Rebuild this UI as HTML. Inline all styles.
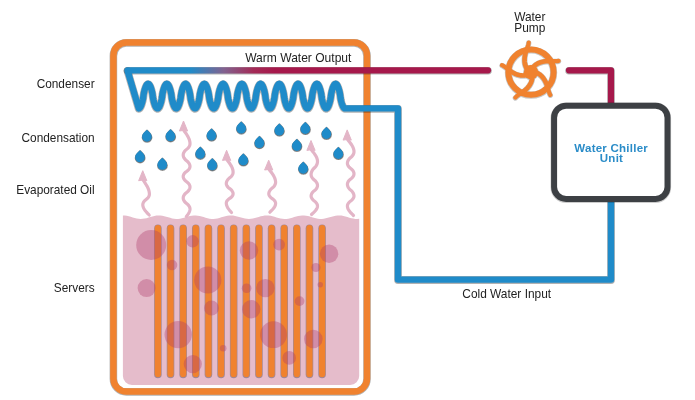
<!DOCTYPE html>
<html><head><meta charset="utf-8"><style>html,body{margin:0;padding:0;background:#fff;width:695px;height:400px;overflow:hidden}svg{display:block;will-change:transform}</style></head>
<body><svg width="695" height="400" viewBox="0 0 695 400">
<defs>
<linearGradient id="g1" gradientUnits="userSpaceOnUse" x1="190" y1="0" x2="275" y2="0"><stop offset="0" stop-color="#1f8bc9"/><stop offset="0.4" stop-color="#82628f"/><stop offset="0.75" stop-color="#a32a56"/><stop offset="1" stop-color="#a6184b"/></linearGradient>
</defs>
<rect width="695" height="400" fill="#fff"/>
<rect x="113.4" y="42.9" width="253.6" height="349" rx="13" ry="13" fill="none" stroke="#000" stroke-opacity="0.3" stroke-width="7.6"/>
<rect x="113.4" y="42.5" width="253.6" height="349" rx="13" ry="13" fill="none" stroke="#f0822f" stroke-width="6.5"/>
<path d="M122.9,376 L122.9,215.5 L122.90,215.45 L124.87,215.55 L126.84,215.85 L128.81,216.30 L130.78,216.86 L132.75,217.46 L134.72,218.03 L136.68,218.50 L138.65,218.82 L140.62,218.95 L142.59,218.87 L144.56,218.60 L146.53,218.17 L148.50,217.62 L150.47,217.03 L152.44,216.45 L154.41,215.96 L156.38,215.62 L158.34,215.46 L160.31,215.50 L162.28,215.75 L164.25,216.16 L166.22,216.69 L168.19,217.29 L170.16,217.87 L172.13,218.38 L174.10,218.74 L176.07,218.93 L178.04,218.92 L180.01,218.70 L181.97,218.31 L183.94,217.79 L185.91,217.20 L187.88,216.61 L189.85,216.09 L191.82,215.70 L193.79,215.48 L195.76,215.47 L197.73,215.66 L199.70,216.03 L201.67,216.54 L203.64,217.12 L205.60,217.71 L207.57,218.25 L209.54,218.66 L211.51,218.90 L213.48,218.94 L215.45,218.78 L217.42,218.43 L219.39,217.94 L221.36,217.37 L223.33,216.77 L225.30,216.22 L227.27,215.79 L229.24,215.52 L231.20,215.45 L233.17,215.59 L235.14,215.91 L237.11,216.38 L239.08,216.95 L241.05,217.55 L243.02,218.11 L244.99,218.56 L246.96,218.85 L248.93,218.95 L250.90,218.84 L252.87,218.55 L254.83,218.09 L256.80,217.53 L258.77,216.93 L260.74,216.37 L262.71,215.90 L264.68,215.58 L266.65,215.45 L268.62,215.53 L270.59,215.80 L272.56,216.24 L274.53,216.78 L276.50,217.38 L278.46,217.96 L280.43,218.44 L282.40,218.79 L284.37,218.94 L286.34,218.89 L288.31,218.65 L290.28,218.23 L292.25,217.70 L294.22,217.10 L296.19,216.52 L298.16,216.02 L300.12,215.65 L302.09,215.47 L304.06,215.49 L306.03,215.71 L308.00,216.10 L309.97,216.62 L311.94,217.21 L313.91,217.80 L315.88,218.32 L317.85,218.71 L319.82,218.92 L321.79,218.93 L323.75,218.74 L325.72,218.37 L327.69,217.86 L329.66,217.27 L331.63,216.68 L333.60,216.15 L335.57,215.74 L337.54,215.50 L339.51,215.46 L341.48,215.62 L343.45,215.97 L345.42,216.46 L347.38,217.04 L349.35,217.64 L351.32,218.18 L353.29,218.61 L355.26,218.88 L357.23,218.95 L359.20,218.81 L359.2,376 A9,9 0 0 1 350.2,385 L131.9,385 A9,9 0 0 1 122.9,376 Z" fill="#e5bccb"/>
<g stroke="#000" stroke-opacity="0.28" stroke-width="7.6" stroke-linecap="round" transform="translate(0,0.4)"><line x1="157.90" y1="228" x2="157.90" y2="374" /><line x1="170.53" y1="228" x2="170.53" y2="374" /><line x1="183.16" y1="228" x2="183.16" y2="374" /><line x1="195.79" y1="228" x2="195.79" y2="374" /><line x1="208.42" y1="228" x2="208.42" y2="374" /><line x1="221.05" y1="228" x2="221.05" y2="374" /><line x1="233.68" y1="228" x2="233.68" y2="374" /><line x1="246.31" y1="228" x2="246.31" y2="374" /><line x1="258.94" y1="228" x2="258.94" y2="374" /><line x1="271.57" y1="228" x2="271.57" y2="374" /><line x1="284.20" y1="228" x2="284.20" y2="374" /><line x1="296.83" y1="228" x2="296.83" y2="374" /><line x1="309.46" y1="228" x2="309.46" y2="374" /><line x1="322.09" y1="228" x2="322.09" y2="374" /></g>
<g stroke="#f0822f" stroke-width="6.2" stroke-linecap="round"><line x1="157.90" y1="228" x2="157.90" y2="374" /><line x1="170.53" y1="228" x2="170.53" y2="374" /><line x1="183.16" y1="228" x2="183.16" y2="374" /><line x1="195.79" y1="228" x2="195.79" y2="374" /><line x1="208.42" y1="228" x2="208.42" y2="374" /><line x1="221.05" y1="228" x2="221.05" y2="374" /><line x1="233.68" y1="228" x2="233.68" y2="374" /><line x1="246.31" y1="228" x2="246.31" y2="374" /><line x1="258.94" y1="228" x2="258.94" y2="374" /><line x1="271.57" y1="228" x2="271.57" y2="374" /><line x1="284.20" y1="228" x2="284.20" y2="374" /><line x1="296.83" y1="228" x2="296.83" y2="374" /><line x1="309.46" y1="228" x2="309.46" y2="374" /><line x1="322.09" y1="228" x2="322.09" y2="374" /></g>
<g fill="#b03a68" fill-opacity="0.36"><circle cx="151.2" cy="245" r="15"/><circle cx="192.6" cy="241.3" r="6.2"/><circle cx="172.1" cy="265" r="5.2"/><circle cx="146.6" cy="288.1" r="9"/><circle cx="207.8" cy="280" r="13.6"/><circle cx="211.5" cy="308" r="7.5"/><circle cx="249" cy="250.5" r="9.2"/><circle cx="279.1" cy="244.6" r="5.9"/><circle cx="329.1" cy="253.75" r="9.2"/><circle cx="315.9" cy="267.5" r="4.6"/><circle cx="320.25" cy="284.75" r="2.75"/><circle cx="265.4" cy="288.1" r="9.2"/><circle cx="246.6" cy="288.25" r="4.8"/><circle cx="299.6" cy="301.1" r="4.9"/><circle cx="251.2" cy="309.2" r="9.2"/><circle cx="178.2" cy="334.6" r="13.7"/><circle cx="192.8" cy="364.1" r="9.1"/><circle cx="223.2" cy="348.3" r="3.3"/><circle cx="273.5" cy="334.7" r="13.4"/><circle cx="289.2" cy="357.9" r="6.8"/><circle cx="313.3" cy="339" r="9.3"/></g>
<g fill="none" stroke="#e3b5c7" stroke-width="3.2" stroke-linecap="round"><path d="M143.05,177.80 L143.25,180.30 L144.05,181.46 L144.84,182.62 L145.60,183.79 L146.32,184.95 L146.99,186.11 L147.60,187.28 L148.13,188.44 L148.58,189.60 L148.93,190.76 L149.19,191.93 L149.35,193.09 L149.40,194.25 L149.31,195.12 L149.04,196.00 L148.60,196.88 L148.00,197.75 L147.22,198.62 L146.10,199.50 L144.98,200.38 L144.20,201.25 L143.60,202.12 L143.16,203.00 L142.89,203.88 L142.80,204.75 L142.85,205.60 L143.02,206.46 L143.29,207.31 L143.66,208.17 L144.12,209.02 L144.67,209.88 L145.30,210.73 L146.00,211.58 L146.75,212.44 L147.54,213.29 L148.36,214.15 L149.20,215.00"/><path d="M183.80,128.10 L184.00,130.60 L184.78,131.70 L185.55,132.79 L186.30,133.89 L187.00,134.98 L187.65,136.08 L188.24,137.18 L188.76,138.27 L189.20,139.37 L189.54,140.46 L189.80,141.56 L189.95,142.65 L190.00,143.75 L189.91,144.69 L189.63,145.62 L189.18,146.56 L188.55,147.50 L187.75,148.44 L186.60,149.38 L185.45,150.31 L184.65,151.25 L184.02,152.19 L183.57,153.12 L183.29,154.06 L183.20,155.00 L183.29,155.95 L183.57,156.90 L184.02,157.85 L184.65,158.80 L185.45,159.75 L186.60,160.70 L187.75,161.65 L188.55,162.60 L189.18,163.55 L189.63,164.50 L189.91,165.45 L190.00,166.40 L189.91,167.24 L189.63,168.08 L189.18,168.93 L188.55,169.77 L187.75,170.61 L186.60,171.45 L185.45,172.29 L184.65,173.13 L184.02,173.97 L183.57,174.82 L183.29,175.66 L183.20,176.50 L183.29,177.38 L183.57,178.25 L184.02,179.12 L184.65,180.00 L185.45,180.88 L186.60,181.75 L187.75,182.62 L188.55,183.50 L189.18,184.38 L189.63,185.25 L189.91,186.12 L190.00,187.00 L189.91,187.92 L189.63,188.83 L189.18,189.75 L188.55,190.67 L187.75,191.58 L186.60,192.50 L185.45,193.42 L184.65,194.33 L184.02,195.25 L183.57,196.17 L183.29,197.08 L183.20,198.00 L183.29,198.92 L183.57,199.83 L184.02,200.75 L184.65,201.67 L185.45,202.58 L186.60,203.50 L187.75,204.42 L188.55,205.33 L189.18,206.25 L189.63,207.17 L189.91,208.08 L190.00,209.00 L189.97,209.63 L189.87,210.27 L189.72,210.90 L189.50,211.53 L189.24,212.17 L188.92,212.80 L188.55,213.43 L188.15,214.07 L187.72,214.70 L187.26,215.33 L186.78,215.97 L186.30,216.60"/><path d="M226.90,157.50 L227.10,160.00 L227.88,161.02 L228.65,162.03 L229.40,163.05 L230.10,164.07 L230.75,165.08 L231.34,166.10 L231.86,167.12 L232.30,168.13 L232.64,169.15 L232.90,170.17 L233.05,171.18 L233.10,172.20 L233.01,173.14 L232.73,174.08 L232.28,175.02 L231.65,175.97 L230.85,176.91 L229.70,177.85 L228.55,178.79 L227.75,179.73 L227.12,180.68 L226.67,181.62 L226.39,182.56 L226.30,183.50 L226.39,184.36 L226.67,185.22 L227.12,186.07 L227.75,186.93 L228.55,187.79 L229.70,188.65 L230.85,189.51 L231.65,190.37 L232.28,191.23 L232.73,192.08 L233.01,192.94 L233.10,193.80 L233.01,194.58 L232.73,195.35 L232.28,196.12 L231.65,196.90 L230.85,197.68 L229.70,198.45 L228.55,199.22 L227.75,200.00 L227.12,200.78 L226.67,201.55 L226.39,202.32 L226.30,203.10 L226.34,203.88 L226.48,204.67 L226.70,205.45 L227.00,206.23 L227.37,207.02 L227.82,207.80 L228.33,208.58 L228.90,209.37 L229.51,210.15 L230.15,210.93 L230.82,211.72 L231.50,212.50"/><path d="M269.00,167.10 L269.20,169.60 L270.04,170.67 L270.86,171.73 L271.65,172.80 L272.40,173.87 L273.10,174.93 L273.73,176.00 L274.28,177.07 L274.74,178.13 L275.11,179.20 L275.38,180.27 L275.55,181.33 L275.60,182.40 L275.51,183.35 L275.23,184.30 L274.78,185.25 L274.15,186.20 L273.35,187.15 L272.20,188.10 L271.05,189.05 L270.25,190.00 L269.62,190.95 L269.17,191.90 L268.89,192.85 L268.80,193.80 L268.89,194.60 L269.17,195.40 L269.62,196.20 L270.25,197.00 L271.05,197.80 L272.20,198.60 L273.35,199.40 L274.15,200.20 L274.78,201.00 L275.23,201.80 L275.51,202.60 L275.60,203.40 L275.55,204.13 L275.41,204.87 L275.17,205.60 L274.84,206.33 L274.42,207.07 L273.93,207.80 L273.37,208.53 L272.75,209.27 L272.08,210.00 L271.38,210.73 L270.64,211.47 L269.90,212.20"/><path d="M311.30,147.50 L311.50,150.00 L312.28,150.96 L313.05,151.92 L313.80,152.88 L314.50,153.83 L315.15,154.79 L315.74,155.75 L316.26,156.71 L316.70,157.67 L317.04,158.62 L317.30,159.58 L317.45,160.54 L317.50,161.50 L317.41,162.58 L317.15,163.67 L316.73,164.75 L316.14,165.83 L315.39,166.92 L314.30,168.00 L313.21,169.08 L312.46,170.17 L311.87,171.25 L311.45,172.33 L311.19,173.42 L311.10,174.50 L311.19,175.42 L311.45,176.33 L311.87,177.25 L312.46,178.17 L313.21,179.08 L314.30,180.00 L315.39,180.92 L316.14,181.83 L316.73,182.75 L317.15,183.67 L317.41,184.58 L317.50,185.50 L317.41,186.38 L317.15,187.25 L316.73,188.12 L316.14,189.00 L315.39,189.88 L314.30,190.75 L313.21,191.62 L312.46,192.50 L311.87,193.38 L311.45,194.25 L311.19,195.12 L311.10,196.00 L311.19,196.83 L311.45,197.67 L311.87,198.50 L312.46,199.33 L313.21,200.17 L314.30,201.00 L315.39,201.83 L316.14,202.67 L316.73,203.50 L317.15,204.33 L317.41,205.17 L317.50,206.00 L317.45,206.71 L317.30,207.42 L317.04,208.12 L316.70,208.83 L316.26,209.54 L315.74,210.25 L315.15,210.96 L314.50,211.67 L313.80,212.38 L313.05,213.08 L312.28,213.79 L311.50,214.50"/><path d="M347.50,137.20 L347.70,139.70 L348.52,140.71 L349.33,141.72 L350.11,142.72 L350.85,143.73 L351.54,144.74 L352.15,145.75 L352.70,146.76 L353.16,147.77 L353.52,148.78 L353.79,149.78 L353.95,150.79 L354.00,151.80 L353.91,152.75 L353.64,153.70 L353.20,154.65 L352.60,155.60 L351.82,156.55 L350.70,157.50 L349.58,158.45 L348.80,159.40 L348.20,160.35 L347.76,161.30 L347.49,162.25 L347.40,163.20 L347.49,164.08 L347.76,164.97 L348.20,165.85 L348.80,166.73 L349.58,167.62 L350.70,168.50 L351.82,169.38 L352.60,170.27 L353.20,171.15 L353.64,172.03 L353.91,172.92 L354.00,173.80 L353.91,174.68 L353.64,175.55 L353.20,176.43 L352.60,177.30 L351.82,178.18 L350.70,179.05 L349.58,179.93 L348.80,180.80 L348.20,181.68 L347.76,182.55 L347.49,183.43 L347.40,184.30 L347.49,185.28 L347.76,186.25 L348.20,187.23 L348.80,188.20 L349.58,189.18 L350.70,190.15 L351.82,191.12 L352.60,192.10 L353.20,193.07 L353.64,194.05 L353.91,195.03 L354.00,196.00 L353.91,196.83 L353.64,197.67 L353.20,198.50 L352.60,199.33 L351.82,200.17 L350.70,201.00 L349.58,201.83 L348.80,202.67 L348.20,203.50 L347.76,204.33 L347.49,205.17 L347.40,206.00 L347.45,206.79 L347.61,207.58 L347.86,208.38 L348.22,209.17 L348.66,209.96 L349.19,210.75 L349.79,211.54 L350.45,212.33 L351.17,213.12 L351.92,213.92 L352.70,214.71 L353.50,215.50"/></g>
<g fill="#e3b5c7" stroke="#e3b5c7" stroke-width="1" stroke-linejoin="round"><path d="M142.75,170.70 L146.85,180.70 Q142.75,179.50 138.65,180.70 Z"/><path d="M183.50,121.00 L187.60,131.00 Q183.5,129.80 179.40,131.00 Z"/><path d="M226.60,150.25 L230.70,160.40 Q226.6,159.20 222.50,160.40 Z"/><path d="M268.70,160.20 L272.80,170.00 Q268.7,168.80 264.60,170.00 Z"/><path d="M311.00,140.50 L315.10,150.40 Q311,149.20 306.90,150.40 Z"/><path d="M347.20,129.90 L351.30,140.10 Q347.2,138.90 343.10,140.10 Z"/></g>
<g fill="#000" fill-opacity="0.4" stroke="#000" stroke-opacity="0.4" stroke-width="1.3" stroke-linejoin="round" transform="translate(0.15,0.45)"><path d="M146.9,129.70 C148.9,131.90 151.70000000000002,133.30 151.70000000000002,136.90 A4.8,4.8 0 0 1 142.1,136.90 C142.1,133.30 144.9,131.90 146.9,129.70 Z"/><path d="M170.5,129.30 C172.5,131.50 175.3,132.90 175.3,136.50 A4.8,4.8 0 0 1 165.7,136.50 C165.7,132.90 168.5,131.50 170.5,129.30 Z"/><path d="M140,150.30 C142.0,152.50 144.8,153.90 144.8,157.50 A4.8,4.8 0 0 1 135.2,157.50 C135.2,153.90 138.0,152.50 140,150.30 Z"/><path d="M162.3,157.80 C164.3,160.00 167.10000000000002,161.40 167.10000000000002,165.00 A4.8,4.8 0 0 1 157.5,165.00 C157.5,161.40 160.3,160.00 162.3,157.80 Z"/><path d="M211.5,128.60 C213.5,130.80 216.3,132.20 216.3,135.80 A4.8,4.8 0 0 1 206.7,135.80 C206.7,132.20 209.5,130.80 211.5,128.60 Z"/><path d="M241.2,121.55 C243.2,123.75 246.0,125.15 246.0,128.75 A4.8,4.8 0 0 1 236.39999999999998,128.75 C236.39999999999998,125.15 239.2,123.75 241.2,121.55 Z"/><path d="M200.25,146.80 C202.25,149.00 205.05,150.40 205.05,154.00 A4.8,4.8 0 0 1 195.45,154.00 C195.45,150.40 198.25,149.00 200.25,146.80 Z"/><path d="M212.25,158.30 C214.25,160.50 217.05,161.90 217.05,165.50 A4.8,4.8 0 0 1 207.45,165.50 C207.45,161.90 210.25,160.50 212.25,158.30 Z"/><path d="M243.3,153.50 C245.3,155.70 248.10000000000002,157.10 248.10000000000002,160.70 A4.8,4.8 0 0 1 238.5,160.70 C238.5,157.10 241.3,155.70 243.3,153.50 Z"/><path d="M259.4,136.10 C261.4,138.30 264.2,139.70 264.2,143.30 A4.8,4.8 0 0 1 254.59999999999997,143.30 C254.59999999999997,139.70 257.4,138.30 259.4,136.10 Z"/><path d="M279.3,123.60 C281.3,125.80 284.1,127.20 284.1,130.80 A4.8,4.8 0 0 1 274.5,130.80 C274.5,127.20 277.3,125.80 279.3,123.60 Z"/><path d="M305.3,122.00 C307.3,124.20 310.1,125.60 310.1,129.20 A4.8,4.8 0 0 1 300.5,129.20 C300.5,125.60 303.3,124.20 305.3,122.00 Z"/><path d="M326.4,126.90 C328.4,129.10 331.2,130.50 331.2,134.10 A4.8,4.8 0 0 1 321.59999999999997,134.10 C321.59999999999997,130.50 324.4,129.10 326.4,126.90 Z"/><path d="M296.8,138.90 C298.8,141.10 301.6,142.50 301.6,146.10 A4.8,4.8 0 0 1 292.0,146.10 C292.0,142.50 294.8,141.10 296.8,138.90 Z"/><path d="M338.3,147.00 C340.3,149.20 343.1,150.60 343.1,154.20 A4.8,4.8 0 0 1 333.5,154.20 C333.5,150.60 336.3,149.20 338.3,147.00 Z"/><path d="M303.2,161.70 C305.2,163.90 308.0,165.30 308.0,168.90 A4.8,4.8 0 0 1 298.4,168.90 C298.4,165.30 301.2,163.90 303.2,161.70 Z"/></g>
<g fill="#1f8bc9"><path d="M146.9,129.70 C148.9,131.90 151.70000000000002,133.30 151.70000000000002,136.90 A4.8,4.8 0 0 1 142.1,136.90 C142.1,133.30 144.9,131.90 146.9,129.70 Z"/><path d="M170.5,129.30 C172.5,131.50 175.3,132.90 175.3,136.50 A4.8,4.8 0 0 1 165.7,136.50 C165.7,132.90 168.5,131.50 170.5,129.30 Z"/><path d="M140,150.30 C142.0,152.50 144.8,153.90 144.8,157.50 A4.8,4.8 0 0 1 135.2,157.50 C135.2,153.90 138.0,152.50 140,150.30 Z"/><path d="M162.3,157.80 C164.3,160.00 167.10000000000002,161.40 167.10000000000002,165.00 A4.8,4.8 0 0 1 157.5,165.00 C157.5,161.40 160.3,160.00 162.3,157.80 Z"/><path d="M211.5,128.60 C213.5,130.80 216.3,132.20 216.3,135.80 A4.8,4.8 0 0 1 206.7,135.80 C206.7,132.20 209.5,130.80 211.5,128.60 Z"/><path d="M241.2,121.55 C243.2,123.75 246.0,125.15 246.0,128.75 A4.8,4.8 0 0 1 236.39999999999998,128.75 C236.39999999999998,125.15 239.2,123.75 241.2,121.55 Z"/><path d="M200.25,146.80 C202.25,149.00 205.05,150.40 205.05,154.00 A4.8,4.8 0 0 1 195.45,154.00 C195.45,150.40 198.25,149.00 200.25,146.80 Z"/><path d="M212.25,158.30 C214.25,160.50 217.05,161.90 217.05,165.50 A4.8,4.8 0 0 1 207.45,165.50 C207.45,161.90 210.25,160.50 212.25,158.30 Z"/><path d="M243.3,153.50 C245.3,155.70 248.10000000000002,157.10 248.10000000000002,160.70 A4.8,4.8 0 0 1 238.5,160.70 C238.5,157.10 241.3,155.70 243.3,153.50 Z"/><path d="M259.4,136.10 C261.4,138.30 264.2,139.70 264.2,143.30 A4.8,4.8 0 0 1 254.59999999999997,143.30 C254.59999999999997,139.70 257.4,138.30 259.4,136.10 Z"/><path d="M279.3,123.60 C281.3,125.80 284.1,127.20 284.1,130.80 A4.8,4.8 0 0 1 274.5,130.80 C274.5,127.20 277.3,125.80 279.3,123.60 Z"/><path d="M305.3,122.00 C307.3,124.20 310.1,125.60 310.1,129.20 A4.8,4.8 0 0 1 300.5,129.20 C300.5,125.60 303.3,124.20 305.3,122.00 Z"/><path d="M326.4,126.90 C328.4,129.10 331.2,130.50 331.2,134.10 A4.8,4.8 0 0 1 321.59999999999997,134.10 C321.59999999999997,130.50 324.4,129.10 326.4,126.90 Z"/><path d="M296.8,138.90 C298.8,141.10 301.6,142.50 301.6,146.10 A4.8,4.8 0 0 1 292.0,146.10 C292.0,142.50 294.8,141.10 296.8,138.90 Z"/><path d="M338.3,147.00 C340.3,149.20 343.1,150.60 343.1,154.20 A4.8,4.8 0 0 1 333.5,154.20 C333.5,150.60 336.3,149.20 338.3,147.00 Z"/><path d="M303.2,161.70 C305.2,163.90 308.0,165.30 308.0,168.90 A4.8,4.8 0 0 1 298.4,168.90 C298.4,165.30 301.2,163.90 303.2,161.70 Z"/></g>
<g fill="none" stroke="#000" stroke-opacity="0.3" stroke-linejoin="round" stroke-linecap="round" transform="translate(0,0.4)">
<path d="M127.5,70.5 L138.72,108.40 L138.72,108.40 L139.07,108.34 L139.41,108.16 L139.76,107.85 L140.10,107.42 L140.44,106.88 L140.79,106.22 L141.13,105.43 L141.47,104.53 L141.82,103.51 L142.16,102.36 L142.51,101.07 L142.85,99.60 L143.19,97.83 L143.54,94.96 L143.88,93.04 L144.22,91.51 L144.57,90.17 L144.91,88.99 L145.26,87.93 L145.60,87.00 L145.94,86.19 L146.29,85.49 L146.63,84.91 L146.97,84.45 L147.32,84.12 L147.66,83.90 L148.01,83.80 L148.35,83.83 L148.69,83.98 L149.04,84.25 L149.38,84.65 L149.72,85.16 L150.07,85.79 L150.41,86.54 L150.76,87.41 L151.10,88.40 L151.44,89.51 L151.79,90.76 L152.13,92.17 L152.47,93.84 L152.82,96.50 L153.16,98.69 L153.51,100.30 L153.85,101.68 L154.19,102.90 L154.54,103.99 L154.88,104.96 L155.22,105.80 L155.57,106.53 L155.91,107.14 L156.26,107.63 L156.60,108.00 L156.94,108.25 L157.29,108.38 L157.63,108.39 L157.97,108.27 L158.32,108.03 L158.66,107.67 L159.01,107.19 L159.35,106.59 L159.69,105.87 L160.04,105.04 L160.38,104.08 L160.72,103.01 L161.07,101.80 L161.41,100.43 L161.76,98.85 L162.10,96.78 L162.44,94.01 L162.79,92.31 L163.13,90.88 L163.47,89.62 L163.82,88.49 L164.16,87.49 L164.51,86.62 L164.85,85.85 L165.19,85.21 L165.54,84.69 L165.88,84.29 L166.22,84.00 L166.57,83.84 L166.91,83.80 L167.26,83.89 L167.60,84.09 L167.94,84.42 L168.29,84.87 L168.63,85.43 L168.97,86.12 L169.32,86.92 L169.66,87.84 L170.01,88.89 L170.35,90.06 L170.69,91.38 L171.04,92.89 L171.38,94.75 L171.72,97.64 L172.07,99.46 L172.41,100.95 L172.76,102.25 L173.10,103.41 L173.44,104.45 L173.79,105.36 L174.13,106.15 L174.47,106.82 L174.82,107.38 L175.16,107.82 L175.51,108.13 L175.85,108.33 L176.19,108.40 L176.54,108.35 L176.88,108.18 L177.22,107.88 L177.57,107.47 L177.91,106.93 L178.26,106.28 L178.60,105.51 L178.94,104.62 L179.29,103.61 L179.63,102.47 L179.97,101.20 L180.32,99.75 L180.66,98.01 L181.01,95.18 L181.35,93.19 L181.69,91.64 L182.04,90.29 L182.38,89.09 L182.72,88.02 L183.07,87.08 L183.41,86.26 L183.76,85.55 L184.10,84.96 L184.44,84.49 L184.79,84.14 L185.13,83.91 L185.47,83.81 L185.82,83.82 L186.16,83.96 L186.51,84.22 L186.85,84.61 L187.19,85.11 L187.54,85.73 L187.88,86.47 L188.22,87.33 L188.57,88.30 L188.91,89.40 L189.26,90.64 L189.60,92.04 L189.94,93.67 L190.29,96.10 L190.63,98.53 L190.97,100.16 L191.32,101.56 L191.66,102.80 L192.01,103.90 L192.35,104.87 L192.69,105.73 L193.04,106.47 L193.38,107.09 L193.73,107.59 L194.07,107.98 L194.41,108.24 L194.76,108.38 L195.10,108.39 L195.44,108.29 L195.79,108.06 L196.13,107.71 L196.48,107.24 L196.82,106.65 L197.16,105.94 L197.51,105.12 L197.85,104.18 L198.19,103.11 L198.54,101.91 L198.88,100.56 L199.23,99.01 L199.57,97.02 L199.91,94.19 L200.26,92.45 L200.60,91.00 L200.94,89.73 L201.29,88.59 L201.63,87.58 L201.98,86.69 L202.32,85.92 L202.66,85.27 L203.01,84.73 L203.35,84.32 L203.69,84.02 L204.04,83.85 L204.38,83.80 L204.73,83.87 L205.07,84.07 L205.41,84.38 L205.76,84.82 L206.10,85.38 L206.44,86.05 L206.79,86.84 L207.13,87.75 L207.48,88.79 L207.82,89.95 L208.16,91.25 L208.51,92.74 L208.85,94.56 L209.19,97.45 L209.54,99.31 L209.88,100.82 L210.23,102.14 L210.57,103.31 L210.91,104.36 L211.26,105.28 L211.60,106.08 L211.94,106.77 L212.29,107.33 L212.63,107.78 L212.98,108.11 L213.32,108.31 L213.66,108.40 L214.01,108.36 L214.35,108.20 L214.69,107.91 L215.04,107.51 L215.38,106.99 L215.73,106.35 L216.07,105.58 L216.41,104.71 L216.76,103.71 L217.10,102.58 L217.44,101.32 L217.79,99.89 L218.13,98.19 L218.48,95.42 L218.82,93.35 L219.16,91.77 L219.51,90.40 L219.85,89.19 L220.19,88.12 L220.54,87.16 L220.88,86.33 L221.23,85.61 L221.57,85.01 L221.91,84.53 L222.26,84.17 L222.60,83.93 L222.94,83.81 L223.29,83.82 L223.63,83.95 L223.98,84.20 L224.32,84.57 L224.66,85.06 L225.01,85.67 L225.35,86.40 L225.69,87.24 L226.04,88.21 L226.38,89.30 L226.73,90.52 L227.07,91.90 L227.41,93.51 L227.76,95.70 L228.10,98.36 L228.44,100.03 L228.79,101.44 L229.13,102.69 L229.48,103.80 L229.82,104.79 L230.16,105.66 L230.51,106.41 L230.85,107.04 L231.19,107.55 L231.54,107.95 L231.88,108.22 L232.23,108.37 L232.57,108.40 L232.91,108.30 L233.26,108.08 L233.60,107.75 L233.94,107.29 L234.29,106.71 L234.63,106.01 L234.98,105.20 L235.32,104.27 L235.66,103.21 L236.01,102.03 L236.35,100.69 L236.69,99.16 L237.04,97.24 L237.38,94.37 L237.73,92.60 L238.07,91.13 L238.41,89.84 L238.76,88.69 L239.10,87.67 L239.44,86.77 L239.79,85.98 L240.13,85.32 L240.48,84.78 L240.82,84.35 L241.16,84.04 L241.51,83.86 L241.85,83.80 L242.19,83.86 L242.54,84.04 L242.88,84.35 L243.23,84.78 L243.57,85.32 L243.91,85.98 L244.26,86.77 L244.60,87.67 L244.94,88.69 L245.29,89.84 L245.63,91.13 L245.98,92.60 L246.32,94.37 L246.66,97.24 L247.01,99.16 L247.35,100.69 L247.69,102.03 L248.04,103.21 L248.38,104.27 L248.73,105.20 L249.07,106.01 L249.41,106.71 L249.76,107.29 L250.10,107.75 L250.44,108.08 L250.79,108.30 L251.13,108.40 L251.48,108.37 L251.82,108.22 L252.16,107.95 L252.51,107.55 L252.85,107.04 L253.19,106.41 L253.54,105.66 L253.88,104.79 L254.23,103.80 L254.57,102.69 L254.91,101.44 L255.26,100.03 L255.60,98.36 L255.94,95.70 L256.29,93.51 L256.63,91.90 L256.98,90.52 L257.32,89.30 L257.66,88.21 L258.01,87.24 L258.35,86.40 L258.69,85.67 L259.04,85.06 L259.38,84.57 L259.73,84.20 L260.07,83.95 L260.41,83.82 L260.76,83.81 L261.10,83.93 L261.44,84.17 L261.79,84.53 L262.13,85.01 L262.48,85.61 L262.82,86.33 L263.16,87.16 L263.51,88.12 L263.85,89.19 L264.19,90.40 L264.54,91.77 L264.88,93.35 L265.23,95.42 L265.57,98.19 L265.91,99.89 L266.26,101.32 L266.60,102.58 L266.94,103.71 L267.29,104.71 L267.63,105.58 L267.98,106.35 L268.32,106.99 L268.66,107.51 L269.01,107.91 L269.35,108.20 L269.69,108.36 L270.04,108.40 L270.38,108.31 L270.73,108.11 L271.07,107.78 L271.41,107.33 L271.76,106.77 L272.10,106.08 L272.44,105.28 L272.79,104.36 L273.13,103.31 L273.48,102.14 L273.82,100.82 L274.16,99.31 L274.51,97.45 L274.85,94.56 L275.19,92.74 L275.54,91.25 L275.88,89.95 L276.23,88.79 L276.57,87.75 L276.91,86.84 L277.26,86.05 L277.60,85.38 L277.94,84.82 L278.29,84.38 L278.63,84.07 L278.98,83.87 L279.32,83.80 L279.66,83.85 L280.01,84.02 L280.35,84.32 L280.69,84.73 L281.04,85.27 L281.38,85.92 L281.73,86.69 L282.07,87.58 L282.41,88.59 L282.76,89.73 L283.10,91.00 L283.44,92.45 L283.79,94.19 L284.13,97.02 L284.48,99.01 L284.82,100.56 L285.16,101.91 L285.51,103.11 L285.85,104.18 L286.19,105.12 L286.54,105.94 L286.88,106.65 L287.23,107.24 L287.57,107.71 L287.91,108.06 L288.26,108.29 L288.60,108.39 L288.94,108.38 L289.29,108.24 L289.63,107.98 L289.98,107.59 L290.32,107.09 L290.66,106.47 L291.01,105.73 L291.35,104.87 L291.69,103.90 L292.04,102.80 L292.38,101.56 L292.73,100.16 L293.07,98.53 L293.41,96.10 L293.76,93.67 L294.10,92.04 L294.44,90.64 L294.79,89.40 L295.13,88.30 L295.48,87.33 L295.82,86.47 L296.16,85.73 L296.51,85.11 L296.85,84.61 L297.19,84.22 L297.54,83.96 L297.88,83.82 L298.23,83.81 L298.57,83.91 L298.91,84.14 L299.26,84.49 L299.60,84.96 L299.94,85.55 L300.29,86.26 L300.63,87.08 L300.98,88.02 L301.32,89.09 L301.66,90.29 L302.01,91.64 L302.35,93.19 L302.69,95.18 L303.04,98.01 L303.38,99.75 L303.73,101.20 L304.07,102.47 L304.41,103.61 L304.76,104.62 L305.10,105.51 L305.44,106.28 L305.79,106.93 L306.13,107.47 L306.48,107.88 L306.82,108.18 L307.16,108.35 L307.51,108.40 L307.85,108.33 L308.19,108.13 L308.54,107.82 L308.88,107.38 L309.23,106.82 L309.57,106.15 L309.91,105.36 L310.26,104.45 L310.60,103.41 L310.94,102.25 L311.29,100.95 L311.63,99.46 L311.98,97.64 L312.32,94.75 L312.66,92.89 L313.01,91.38 L313.35,90.06 L313.69,88.89 L314.04,87.84 L314.38,86.92 L314.73,86.12 L315.07,85.43 L315.41,84.87 L315.76,84.42 L316.10,84.09 L316.44,83.89 L316.79,83.80 L317.13,83.84 L317.48,84.00 L317.82,84.29 L318.16,84.69 L318.51,85.21 L318.85,85.85 L319.19,86.62 L319.54,87.49 L319.88,88.49 L320.23,89.62 L320.57,90.88 L320.91,92.31 L321.26,94.01 L321.60,96.78 L321.94,98.85 L322.29,100.43 L322.63,101.80 L322.98,103.01 L323.32,104.08 L323.66,105.04 L324.01,105.87 L324.35,106.59 L324.69,107.19 L325.04,107.67 L325.38,108.03 L325.73,108.27 L326.07,108.39 L326.41,108.38 L326.76,108.25 L327.10,108.00 L327.44,107.63 L327.79,107.14 L328.13,106.53 L328.48,105.80 L328.82,104.96 L329.16,103.99 L329.51,102.90 L329.85,101.68 L330.19,100.30 L330.54,98.69 L330.88,96.50 L331.23,93.84 L331.57,92.17 L331.91,90.76 L332.26,89.51 L332.60,88.40 L332.94,87.41 L333.29,86.54 L333.63,85.79 L333.98,85.16 L334.32,84.65 L334.66,84.25 L335.01,83.98 L335.35,83.83 L335.69,83.80 L336.04,83.90 L336.38,84.12 L336.73,84.45 L337.07,84.91 L337.41,85.49 L337.76,86.19 L338.10,87.00 L338.44,87.93 L338.79,88.99 L339.13,90.17 L339.48,91.51 L339.82,93.04 L340.16,94.96 L340.51,97.83 L340.85,99.60 L341.19,101.07 L341.54,102.36 L341.88,103.51 L342.23,104.53 L342.57,105.43 L342.91,106.22 L343.26,106.88 L343.60,107.42 L343.94,107.85 L344.29,108.16 L344.63,108.34 L344.98,108.40 L398,108.40 L398,279.6 L611,279.6 L611,202" stroke-width="7.8"/>
<path d="M127.5,70.3 L488,70.3" stroke-width="7.6"/>
<path d="M569,70.3 L611,70.3 L611,104" stroke-width="7.6"/>
</g>
<g fill="none" stroke-width="6.2" stroke-linejoin="round">
<path d="M127.5,70.5 L138.72,108.40 L138.72,108.40 L139.07,108.34 L139.41,108.16 L139.76,107.85 L140.10,107.42 L140.44,106.88 L140.79,106.22 L141.13,105.43 L141.47,104.53 L141.82,103.51 L142.16,102.36 L142.51,101.07 L142.85,99.60 L143.19,97.83 L143.54,94.96 L143.88,93.04 L144.22,91.51 L144.57,90.17 L144.91,88.99 L145.26,87.93 L145.60,87.00 L145.94,86.19 L146.29,85.49 L146.63,84.91 L146.97,84.45 L147.32,84.12 L147.66,83.90 L148.01,83.80 L148.35,83.83 L148.69,83.98 L149.04,84.25 L149.38,84.65 L149.72,85.16 L150.07,85.79 L150.41,86.54 L150.76,87.41 L151.10,88.40 L151.44,89.51 L151.79,90.76 L152.13,92.17 L152.47,93.84 L152.82,96.50 L153.16,98.69 L153.51,100.30 L153.85,101.68 L154.19,102.90 L154.54,103.99 L154.88,104.96 L155.22,105.80 L155.57,106.53 L155.91,107.14 L156.26,107.63 L156.60,108.00 L156.94,108.25 L157.29,108.38 L157.63,108.39 L157.97,108.27 L158.32,108.03 L158.66,107.67 L159.01,107.19 L159.35,106.59 L159.69,105.87 L160.04,105.04 L160.38,104.08 L160.72,103.01 L161.07,101.80 L161.41,100.43 L161.76,98.85 L162.10,96.78 L162.44,94.01 L162.79,92.31 L163.13,90.88 L163.47,89.62 L163.82,88.49 L164.16,87.49 L164.51,86.62 L164.85,85.85 L165.19,85.21 L165.54,84.69 L165.88,84.29 L166.22,84.00 L166.57,83.84 L166.91,83.80 L167.26,83.89 L167.60,84.09 L167.94,84.42 L168.29,84.87 L168.63,85.43 L168.97,86.12 L169.32,86.92 L169.66,87.84 L170.01,88.89 L170.35,90.06 L170.69,91.38 L171.04,92.89 L171.38,94.75 L171.72,97.64 L172.07,99.46 L172.41,100.95 L172.76,102.25 L173.10,103.41 L173.44,104.45 L173.79,105.36 L174.13,106.15 L174.47,106.82 L174.82,107.38 L175.16,107.82 L175.51,108.13 L175.85,108.33 L176.19,108.40 L176.54,108.35 L176.88,108.18 L177.22,107.88 L177.57,107.47 L177.91,106.93 L178.26,106.28 L178.60,105.51 L178.94,104.62 L179.29,103.61 L179.63,102.47 L179.97,101.20 L180.32,99.75 L180.66,98.01 L181.01,95.18 L181.35,93.19 L181.69,91.64 L182.04,90.29 L182.38,89.09 L182.72,88.02 L183.07,87.08 L183.41,86.26 L183.76,85.55 L184.10,84.96 L184.44,84.49 L184.79,84.14 L185.13,83.91 L185.47,83.81 L185.82,83.82 L186.16,83.96 L186.51,84.22 L186.85,84.61 L187.19,85.11 L187.54,85.73 L187.88,86.47 L188.22,87.33 L188.57,88.30 L188.91,89.40 L189.26,90.64 L189.60,92.04 L189.94,93.67 L190.29,96.10 L190.63,98.53 L190.97,100.16 L191.32,101.56 L191.66,102.80 L192.01,103.90 L192.35,104.87 L192.69,105.73 L193.04,106.47 L193.38,107.09 L193.73,107.59 L194.07,107.98 L194.41,108.24 L194.76,108.38 L195.10,108.39 L195.44,108.29 L195.79,108.06 L196.13,107.71 L196.48,107.24 L196.82,106.65 L197.16,105.94 L197.51,105.12 L197.85,104.18 L198.19,103.11 L198.54,101.91 L198.88,100.56 L199.23,99.01 L199.57,97.02 L199.91,94.19 L200.26,92.45 L200.60,91.00 L200.94,89.73 L201.29,88.59 L201.63,87.58 L201.98,86.69 L202.32,85.92 L202.66,85.27 L203.01,84.73 L203.35,84.32 L203.69,84.02 L204.04,83.85 L204.38,83.80 L204.73,83.87 L205.07,84.07 L205.41,84.38 L205.76,84.82 L206.10,85.38 L206.44,86.05 L206.79,86.84 L207.13,87.75 L207.48,88.79 L207.82,89.95 L208.16,91.25 L208.51,92.74 L208.85,94.56 L209.19,97.45 L209.54,99.31 L209.88,100.82 L210.23,102.14 L210.57,103.31 L210.91,104.36 L211.26,105.28 L211.60,106.08 L211.94,106.77 L212.29,107.33 L212.63,107.78 L212.98,108.11 L213.32,108.31 L213.66,108.40 L214.01,108.36 L214.35,108.20 L214.69,107.91 L215.04,107.51 L215.38,106.99 L215.73,106.35 L216.07,105.58 L216.41,104.71 L216.76,103.71 L217.10,102.58 L217.44,101.32 L217.79,99.89 L218.13,98.19 L218.48,95.42 L218.82,93.35 L219.16,91.77 L219.51,90.40 L219.85,89.19 L220.19,88.12 L220.54,87.16 L220.88,86.33 L221.23,85.61 L221.57,85.01 L221.91,84.53 L222.26,84.17 L222.60,83.93 L222.94,83.81 L223.29,83.82 L223.63,83.95 L223.98,84.20 L224.32,84.57 L224.66,85.06 L225.01,85.67 L225.35,86.40 L225.69,87.24 L226.04,88.21 L226.38,89.30 L226.73,90.52 L227.07,91.90 L227.41,93.51 L227.76,95.70 L228.10,98.36 L228.44,100.03 L228.79,101.44 L229.13,102.69 L229.48,103.80 L229.82,104.79 L230.16,105.66 L230.51,106.41 L230.85,107.04 L231.19,107.55 L231.54,107.95 L231.88,108.22 L232.23,108.37 L232.57,108.40 L232.91,108.30 L233.26,108.08 L233.60,107.75 L233.94,107.29 L234.29,106.71 L234.63,106.01 L234.98,105.20 L235.32,104.27 L235.66,103.21 L236.01,102.03 L236.35,100.69 L236.69,99.16 L237.04,97.24 L237.38,94.37 L237.73,92.60 L238.07,91.13 L238.41,89.84 L238.76,88.69 L239.10,87.67 L239.44,86.77 L239.79,85.98 L240.13,85.32 L240.48,84.78 L240.82,84.35 L241.16,84.04 L241.51,83.86 L241.85,83.80 L242.19,83.86 L242.54,84.04 L242.88,84.35 L243.23,84.78 L243.57,85.32 L243.91,85.98 L244.26,86.77 L244.60,87.67 L244.94,88.69 L245.29,89.84 L245.63,91.13 L245.98,92.60 L246.32,94.37 L246.66,97.24 L247.01,99.16 L247.35,100.69 L247.69,102.03 L248.04,103.21 L248.38,104.27 L248.73,105.20 L249.07,106.01 L249.41,106.71 L249.76,107.29 L250.10,107.75 L250.44,108.08 L250.79,108.30 L251.13,108.40 L251.48,108.37 L251.82,108.22 L252.16,107.95 L252.51,107.55 L252.85,107.04 L253.19,106.41 L253.54,105.66 L253.88,104.79 L254.23,103.80 L254.57,102.69 L254.91,101.44 L255.26,100.03 L255.60,98.36 L255.94,95.70 L256.29,93.51 L256.63,91.90 L256.98,90.52 L257.32,89.30 L257.66,88.21 L258.01,87.24 L258.35,86.40 L258.69,85.67 L259.04,85.06 L259.38,84.57 L259.73,84.20 L260.07,83.95 L260.41,83.82 L260.76,83.81 L261.10,83.93 L261.44,84.17 L261.79,84.53 L262.13,85.01 L262.48,85.61 L262.82,86.33 L263.16,87.16 L263.51,88.12 L263.85,89.19 L264.19,90.40 L264.54,91.77 L264.88,93.35 L265.23,95.42 L265.57,98.19 L265.91,99.89 L266.26,101.32 L266.60,102.58 L266.94,103.71 L267.29,104.71 L267.63,105.58 L267.98,106.35 L268.32,106.99 L268.66,107.51 L269.01,107.91 L269.35,108.20 L269.69,108.36 L270.04,108.40 L270.38,108.31 L270.73,108.11 L271.07,107.78 L271.41,107.33 L271.76,106.77 L272.10,106.08 L272.44,105.28 L272.79,104.36 L273.13,103.31 L273.48,102.14 L273.82,100.82 L274.16,99.31 L274.51,97.45 L274.85,94.56 L275.19,92.74 L275.54,91.25 L275.88,89.95 L276.23,88.79 L276.57,87.75 L276.91,86.84 L277.26,86.05 L277.60,85.38 L277.94,84.82 L278.29,84.38 L278.63,84.07 L278.98,83.87 L279.32,83.80 L279.66,83.85 L280.01,84.02 L280.35,84.32 L280.69,84.73 L281.04,85.27 L281.38,85.92 L281.73,86.69 L282.07,87.58 L282.41,88.59 L282.76,89.73 L283.10,91.00 L283.44,92.45 L283.79,94.19 L284.13,97.02 L284.48,99.01 L284.82,100.56 L285.16,101.91 L285.51,103.11 L285.85,104.18 L286.19,105.12 L286.54,105.94 L286.88,106.65 L287.23,107.24 L287.57,107.71 L287.91,108.06 L288.26,108.29 L288.60,108.39 L288.94,108.38 L289.29,108.24 L289.63,107.98 L289.98,107.59 L290.32,107.09 L290.66,106.47 L291.01,105.73 L291.35,104.87 L291.69,103.90 L292.04,102.80 L292.38,101.56 L292.73,100.16 L293.07,98.53 L293.41,96.10 L293.76,93.67 L294.10,92.04 L294.44,90.64 L294.79,89.40 L295.13,88.30 L295.48,87.33 L295.82,86.47 L296.16,85.73 L296.51,85.11 L296.85,84.61 L297.19,84.22 L297.54,83.96 L297.88,83.82 L298.23,83.81 L298.57,83.91 L298.91,84.14 L299.26,84.49 L299.60,84.96 L299.94,85.55 L300.29,86.26 L300.63,87.08 L300.98,88.02 L301.32,89.09 L301.66,90.29 L302.01,91.64 L302.35,93.19 L302.69,95.18 L303.04,98.01 L303.38,99.75 L303.73,101.20 L304.07,102.47 L304.41,103.61 L304.76,104.62 L305.10,105.51 L305.44,106.28 L305.79,106.93 L306.13,107.47 L306.48,107.88 L306.82,108.18 L307.16,108.35 L307.51,108.40 L307.85,108.33 L308.19,108.13 L308.54,107.82 L308.88,107.38 L309.23,106.82 L309.57,106.15 L309.91,105.36 L310.26,104.45 L310.60,103.41 L310.94,102.25 L311.29,100.95 L311.63,99.46 L311.98,97.64 L312.32,94.75 L312.66,92.89 L313.01,91.38 L313.35,90.06 L313.69,88.89 L314.04,87.84 L314.38,86.92 L314.73,86.12 L315.07,85.43 L315.41,84.87 L315.76,84.42 L316.10,84.09 L316.44,83.89 L316.79,83.80 L317.13,83.84 L317.48,84.00 L317.82,84.29 L318.16,84.69 L318.51,85.21 L318.85,85.85 L319.19,86.62 L319.54,87.49 L319.88,88.49 L320.23,89.62 L320.57,90.88 L320.91,92.31 L321.26,94.01 L321.60,96.78 L321.94,98.85 L322.29,100.43 L322.63,101.80 L322.98,103.01 L323.32,104.08 L323.66,105.04 L324.01,105.87 L324.35,106.59 L324.69,107.19 L325.04,107.67 L325.38,108.03 L325.73,108.27 L326.07,108.39 L326.41,108.38 L326.76,108.25 L327.10,108.00 L327.44,107.63 L327.79,107.14 L328.13,106.53 L328.48,105.80 L328.82,104.96 L329.16,103.99 L329.51,102.90 L329.85,101.68 L330.19,100.30 L330.54,98.69 L330.88,96.50 L331.23,93.84 L331.57,92.17 L331.91,90.76 L332.26,89.51 L332.60,88.40 L332.94,87.41 L333.29,86.54 L333.63,85.79 L333.98,85.16 L334.32,84.65 L334.66,84.25 L335.01,83.98 L335.35,83.83 L335.69,83.80 L336.04,83.90 L336.38,84.12 L336.73,84.45 L337.07,84.91 L337.41,85.49 L337.76,86.19 L338.10,87.00 L338.44,87.93 L338.79,88.99 L339.13,90.17 L339.48,91.51 L339.82,93.04 L340.16,94.96 L340.51,97.83 L340.85,99.60 L341.19,101.07 L341.54,102.36 L341.88,103.51 L342.23,104.53 L342.57,105.43 L342.91,106.22 L343.26,106.88 L343.60,107.42 L343.94,107.85 L344.29,108.16 L344.63,108.34 L344.98,108.40 L398,108.40 L398,279.6 L611,279.6 L611,202" stroke="#1f8bc9" stroke-width="6.4"/>
<path d="M127.5,70.3 L488,70.3" stroke="url(#g1)" stroke-linecap="round"/>
<path d="M569,70.3 L611,70.3 L611,104" stroke="#a6184b" stroke-linecap="round"/>
</g>
<rect x="554.1" y="106.1" width="113.4" height="93.3" rx="12" ry="12" fill="none" stroke="#000" stroke-opacity="0.2" stroke-width="7.2"/>
<rect x="554.1" y="105.7" width="113.4" height="93.3" rx="12" ry="12" fill="#fff" stroke="#3d4044" stroke-width="6"/>
<g opacity="0.22" transform="translate(0,0.4)"><circle cx="531" cy="72.2" r="22.6" fill="none" stroke="#000" stroke-width="7.2"/><circle cx="531" cy="72.2" r="7.8" fill="#000"/><path d="M528.71,42.49 L528.54,43.81 L528.18,45.15 L527.74,46.51 L527.25,47.89 L526.75,49.29 L526.27,50.72 M558.55,60.84 L557.24,61.09 L555.86,61.16 L554.43,61.16 L552.96,61.12 L551.48,61.08 L549.97,61.06 M550.31,94.89 L549.68,93.73 L549.18,92.43 L548.74,91.07 L548.32,89.67 L547.90,88.24 L547.46,86.80 M515.39,97.58 L516.30,96.62 L517.38,95.74 L518.54,94.90 L519.74,94.07 L520.97,93.23 L522.20,92.36 M502.04,65.19 L503.24,65.76 L504.40,66.52 L505.56,67.36 L506.72,68.25 L507.90,69.16 L509.10,70.06" fill="none" stroke="#000" stroke-width="5.4" stroke-linecap="round" stroke-linejoin="round"/><path d="M526.49,50.06 L526.17,51.00 L525.87,51.96 L525.60,52.92 L525.34,53.89 L525.11,54.86 L524.92,55.84 L524.76,56.83 L524.64,57.81 L524.56,58.79 L524.53,59.77 L524.54,60.74 L524.60,61.70 L524.71,62.65 L524.86,63.58 L525.08,64.49 L525.34,65.38 L525.65,66.24 L526.02,67.07 L526.44,67.86 L526.92,68.61 L527.44,69.33 L528.01,69.99 L528.63,70.60 L529.30,71.15 M550.67,61.07 L549.67,61.06 L548.67,61.07 L547.67,61.10 L546.67,61.16 L545.67,61.25 L544.68,61.36 L543.69,61.52 L542.72,61.71 L541.76,61.93 L540.82,62.20 L539.91,62.51 L539.01,62.87 L538.14,63.26 L537.31,63.70 L536.50,64.18 L535.74,64.71 L535.02,65.27 L534.34,65.88 L533.72,66.53 L533.15,67.21 L532.63,67.93 L532.18,68.68 L531.79,69.45 L531.47,70.26 M547.67,87.46 L547.37,86.51 L547.05,85.57 L546.71,84.62 L546.34,83.69 L545.95,82.77 L545.53,81.86 L545.08,80.97 L544.60,80.11 L544.09,79.27 L543.54,78.45 L542.96,77.68 L542.35,76.93 L541.71,76.23 L541.03,75.57 L540.33,74.96 L539.59,74.39 L538.83,73.88 L538.04,73.43 L537.24,73.03 L536.41,72.70 L535.57,72.43 L534.72,72.23 L533.86,72.10 L532.99,72.05 M521.63,92.77 L522.44,92.19 L523.25,91.59 L524.04,90.98 L524.81,90.34 L525.57,89.68 L526.30,89.01 L527.01,88.30 L527.68,87.58 L528.32,86.83 L528.93,86.06 L529.49,85.27 L530.01,84.46 L530.48,83.63 L530.89,82.78 L531.26,81.92 L531.57,81.05 L531.82,80.17 L532.01,79.28 L532.13,78.39 L532.20,77.50 L532.19,76.62 L532.12,75.75 L531.97,74.89 L531.76,74.05 M508.54,69.65 L509.35,70.24 L510.16,70.82 L510.99,71.38 L511.84,71.92 L512.69,72.44 L513.57,72.93 L514.45,73.38 L515.35,73.80 L516.26,74.18 L517.18,74.51 L518.10,74.80 L519.03,75.04 L519.97,75.23 L520.90,75.37 L521.83,75.45 L522.76,75.48 L523.68,75.44 L524.58,75.35 L525.46,75.19 L526.33,74.97 L527.17,74.70 L527.97,74.36 L528.74,73.96 L529.48,73.50" fill="none" stroke="#000" stroke-width="5.9" stroke-linecap="round" stroke-linejoin="round"/></g>
<circle cx="531" cy="72.2" r="22.6" fill="none" stroke="#f0822f" stroke-width="6"/><circle cx="531" cy="72.2" r="7.2" fill="#f0822f"/><path d="M528.71,42.49 L528.54,43.81 L528.18,45.15 L527.74,46.51 L527.25,47.89 L526.75,49.29 L526.27,50.72 M558.55,60.84 L557.24,61.09 L555.86,61.16 L554.43,61.16 L552.96,61.12 L551.48,61.08 L549.97,61.06 M550.31,94.89 L549.68,93.73 L549.18,92.43 L548.74,91.07 L548.32,89.67 L547.90,88.24 L547.46,86.80 M515.39,97.58 L516.30,96.62 L517.38,95.74 L518.54,94.90 L519.74,94.07 L520.97,93.23 L522.20,92.36 M502.04,65.19 L503.24,65.76 L504.40,66.52 L505.56,67.36 L506.72,68.25 L507.90,69.16 L509.10,70.06" fill="none" stroke="#f0822f" stroke-width="4.2" stroke-linecap="round" stroke-linejoin="round"/><path d="M526.49,50.06 L526.17,51.00 L525.87,51.96 L525.60,52.92 L525.34,53.89 L525.11,54.86 L524.92,55.84 L524.76,56.83 L524.64,57.81 L524.56,58.79 L524.53,59.77 L524.54,60.74 L524.60,61.70 L524.71,62.65 L524.86,63.58 L525.08,64.49 L525.34,65.38 L525.65,66.24 L526.02,67.07 L526.44,67.86 L526.92,68.61 L527.44,69.33 L528.01,69.99 L528.63,70.60 L529.30,71.15 M550.67,61.07 L549.67,61.06 L548.67,61.07 L547.67,61.10 L546.67,61.16 L545.67,61.25 L544.68,61.36 L543.69,61.52 L542.72,61.71 L541.76,61.93 L540.82,62.20 L539.91,62.51 L539.01,62.87 L538.14,63.26 L537.31,63.70 L536.50,64.18 L535.74,64.71 L535.02,65.27 L534.34,65.88 L533.72,66.53 L533.15,67.21 L532.63,67.93 L532.18,68.68 L531.79,69.45 L531.47,70.26 M547.67,87.46 L547.37,86.51 L547.05,85.57 L546.71,84.62 L546.34,83.69 L545.95,82.77 L545.53,81.86 L545.08,80.97 L544.60,80.11 L544.09,79.27 L543.54,78.45 L542.96,77.68 L542.35,76.93 L541.71,76.23 L541.03,75.57 L540.33,74.96 L539.59,74.39 L538.83,73.88 L538.04,73.43 L537.24,73.03 L536.41,72.70 L535.57,72.43 L534.72,72.23 L533.86,72.10 L532.99,72.05 M521.63,92.77 L522.44,92.19 L523.25,91.59 L524.04,90.98 L524.81,90.34 L525.57,89.68 L526.30,89.01 L527.01,88.30 L527.68,87.58 L528.32,86.83 L528.93,86.06 L529.49,85.27 L530.01,84.46 L530.48,83.63 L530.89,82.78 L531.26,81.92 L531.57,81.05 L531.82,80.17 L532.01,79.28 L532.13,78.39 L532.20,77.50 L532.19,76.62 L532.12,75.75 L531.97,74.89 L531.76,74.05 M508.54,69.65 L509.35,70.24 L510.16,70.82 L510.99,71.38 L511.84,71.92 L512.69,72.44 L513.57,72.93 L514.45,73.38 L515.35,73.80 L516.26,74.18 L517.18,74.51 L518.10,74.80 L519.03,75.04 L519.97,75.23 L520.90,75.37 L521.83,75.45 L522.76,75.48 L523.68,75.44 L524.58,75.35 L525.46,75.19 L526.33,74.97 L527.17,74.70 L527.97,74.36 L528.74,73.96 L529.48,73.50" fill="none" stroke="#f0822f" stroke-width="4.7" stroke-linecap="round" stroke-linejoin="round"/>
<g font-family="Liberation Sans, sans-serif" font-size="11.85" fill="#222" text-anchor="end">
<text x="94.6" y="88.4">Condenser</text>
<text x="94.6" y="142">Condensation</text>
<text x="94.6" y="194.4">Evaporated Oil</text>
<text x="94.6" y="291.8">Servers</text>
</g>
<g font-family="Liberation Sans, sans-serif" font-size="11.9" fill="#222">
<text x="245.2" y="61.7" font-size="12.05">Warm Water Output</text>
<text x="462.3" y="297.5">Cold Water Input</text>
<text x="529.8" y="20.6" text-anchor="middle">Water</text>
<text x="529.8" y="31.7" text-anchor="middle">Pump</text>
</g>
<g font-family="Liberation Sans, sans-serif" font-size="11.5" font-weight="bold" fill="#2a8cc8" text-anchor="middle" letter-spacing="0.25">
<text x="611.2" y="151.5">Water Chiller</text>
<text x="611.5" y="162.3">Unit</text>
</g>
</svg></body></html>
